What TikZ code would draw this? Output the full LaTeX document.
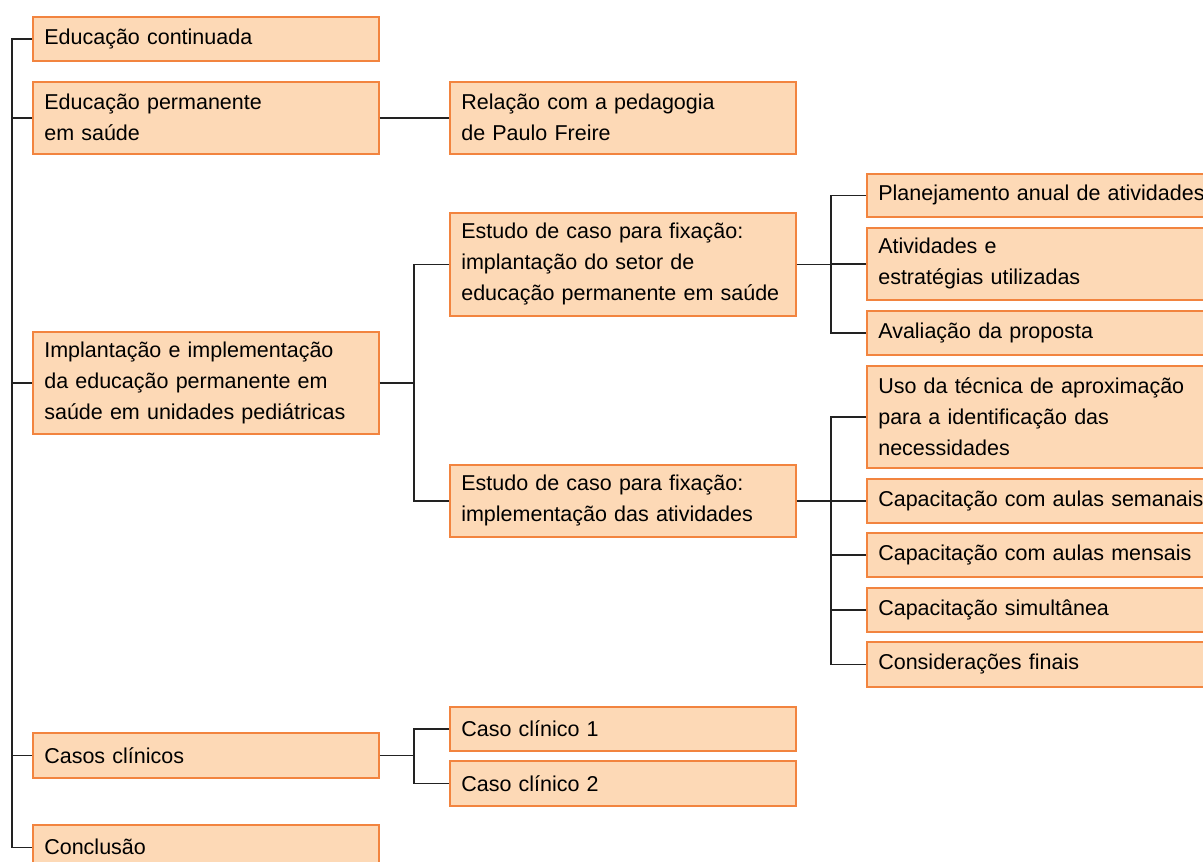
\documentclass[tikz,border=0pt]{standalone}
\usepackage{fontspec}
\setmainfont{Liberation Sans}
\definecolor{boxfill}{HTML}{FDD9B6}
\definecolor{boxline}{HTML}{F2843F}
\definecolor{connline}{HTML}{222222}
\begin{document}
\begin{tikzpicture}[x=1pt,y=-1pt,
  box/.style={draw=boxline, fill=boxfill, line width=1.6pt, rectangle, anchor=north west,
    inner xsep=11pt, inner ysep=0pt, align=left, font=\fontsize{21.5}{31}\selectfont},
  boxL/.style={box, minimum width=346pt, text width=323pt},
  boxR/.style={box, minimum width=350pt, text width=327pt},
  conn/.style={draw=connline, line width=1.4pt}]
\clip (0,0) rectangle (1203,862);
\fill[white] (0,0) rectangle (1203,862);
% left column
\node[boxL, minimum height=44pt] (ec) at (32,16) {Educação continuada};
\node[boxL, minimum height=72pt] (ep) at (32,81) {Educação permanente\\em saúde};
\node[boxL, minimum height=102pt] (im) at (32,331) {Implantação e implementação\\da educação permanente em\\saúde em unidades pediátricas};
\node[boxL, minimum height=45pt] (cc) at (32,732) {Casos clínicos};
\node[boxL, minimum height=45pt] (cl) at (32,824) {Conclusão};
% middle column
\node[boxL, minimum height=72pt] (rp) at (449,81) {Relação com a pedagogia\\de Paulo Freire};
\node[boxL, minimum height=103pt] (es) at (449,212) {Estudo de caso para fixação:\\implantação do setor de\\educação permanente em saúde};
\node[boxL, minimum height=72pt] (ea) at (449,464) {Estudo de caso para fixação:\\implementação das atividades};
\node[boxL, minimum height=44pt] (c1) at (449,706) {Caso clínico 1};
\node[boxL, minimum height=45pt] (c2) at (449,760) {Caso clínico 2};
% right column
\node[boxR, minimum height=43pt] (pa) at (866,173) {Planejamento anual de atividades};
\node[boxR, minimum height=72pt] (at) at (866,227) {Atividades e\\estratégias utilizadas};
\node[boxR, minimum height=44pt] (av) at (866,310) {Avaliação da proposta};
\node[boxR, minimum height=102pt] (us) at (866,365) {Uso da técnica de aproximação\\para a identificação das\\necessidades};
\node[boxR, minimum height=44pt] (cs) at (866,478) {Capacitação com aulas semanais};
\node[boxR, minimum height=44pt] (cm) at (866,532) {Capacitação com aulas mensais};
\node[boxR, minimum height=44pt] (si) at (866,587) {Capacitação simultânea};
\node[boxR, minimum height=45pt] (cf) at (866,641) {Considerações finais};
% bus coordinates
\coordinate (t0) at (12,0);
\coordinate (t1) at (414,0);
\coordinate (t2) at (831,0);
% trunk
\draw[conn] (ec.west) -- (ec.west -| t0) -- (cl.west -| t0) -- (cl.west);
\draw[conn] (ep.west) -- (ep.west -| t0);
\draw[conn] (im.west) -- (im.west -| t0);
\draw[conn] (cc.west) -- (cc.west -| t0);
% educacao permanente
\draw[conn] (ep.east) -- (rp.west);
% implantacao
\draw[conn] (im.east) -- (im.east -| t1);
\draw[conn] (es.west) -- (es.west -| t1) -- (ea.west -| t1) -- (ea.west);
% estudo setor
\draw[conn] (es.east) -- (es.east -| t2);
\draw[conn] (pa.west) -- (pa.west -| t2) -- (av.west -| t2) -- (av.west);
\draw[conn] (at.west) -- (at.west -| t2);
% estudo atividades
\draw[conn] (ea.east) -- (cs.west);
\draw[conn] (us.west) -- (us.west -| t2) -- (cf.west -| t2) -- (cf.west);
\draw[conn] (cm.west) -- (cm.west -| t2);
\draw[conn] (si.west) -- (si.west -| t2);
% casos clinicos
\draw[conn] (cc.east) -- (cc.east -| t1);
\draw[conn] (c1.west) -- (c1.west -| t1) -- (c2.west -| t1) -- (c2.west);
\end{tikzpicture}
\end{document}
